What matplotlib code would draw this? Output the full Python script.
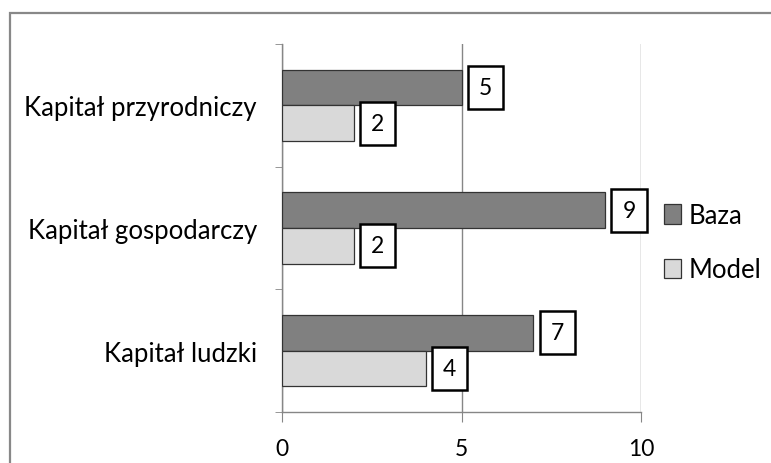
import numpy as np
import matplotlib.pyplot as plt
from matplotlib.patches import Rectangle

# ---data--- #
categories = ['Kapitał ludzki', 'Kapitał gospodarczy', 'Kapitał przyrodniczy']
baza = [7, 9, 5]
model = [4, 2, 2]
series_names = ['Baza', 'Model']

plt.rcParams['font.family'] = ['Lato', 'DejaVu Sans']

fig = plt.figure(figsize=(7.71, 4.64), dpi=100)
ax = fig.add_axes([282 / 771, 1 - 413 / 464, 359 / 771, 368 / 464])

# outer chart frame, cut off on right/bottom like the original
fig.patches.append(Rectangle((10 / 771, -0.1), 1.2, 1 - 14 / 464 + 0.1,
                             transform=fig.transFigure, fill=False,
                             edgecolor='#888888', linewidth=1.6))

y = np.arange(len(categories))
h = 0.29
gray = '#868686'

b1 = ax.barh(y + h / 2, baza, height=h, color='#808080', edgecolor='#333333',
             linewidth=0.9, label=series_names[0], zorder=3)
b2 = ax.barh(y - h / 2, model, height=h, color='#d9d9d9', edgecolor='#333333',
             linewidth=0.9, label=series_names[1], zorder=3)

for bars in (b1, b2):
    for rect in bars:
        w = rect.get_width()
        yc = rect.get_y() + rect.get_height() / 2
        ax.annotate(str(int(w)), (w, yc), xytext=(12.5, 0), textcoords='offset points',
                    ha='left', va='center', fontsize=16.5, zorder=5,
                    bbox=dict(boxstyle='square,pad=0.48', fc='white', ec='black', lw=1.8))

ax.set_xlim(0, 10)
ax.set_ylim(-0.5, 2.5)
ax.set_xticks([0, 5, 10])
ax.set_yticks(y)
ax.set_yticklabels(categories, fontsize=18.5)
ax.set_yticks([-0.5, 0.5, 1.5, 2.5], minor=True)
ax.tick_params(axis='y', which='major', length=0, pad=18)
ax.tick_params(axis='y', which='minor', length=5, color=gray, direction='out')
ax.tick_params(axis='x', length=7, color=gray, direction='out', pad=12, labelsize=16.5)

ax.grid(axis='x', color=gray, linewidth=1, zorder=0)
for s in ['top', 'right']:
    ax.spines[s].set_visible(False)
for s in ['left', 'bottom']:
    ax.spines[s].set_color(gray)
    ax.spines[s].set_linewidth(1)

ax.legend(loc='center left', bbox_to_anchor=(1.0, 0.46), frameon=False,
          fontsize=18.5, handlelength=0.65, handleheight=0.8, handletextpad=0.3,
          labelspacing=1.15)

fig.savefig('out.png', dpi=100)
